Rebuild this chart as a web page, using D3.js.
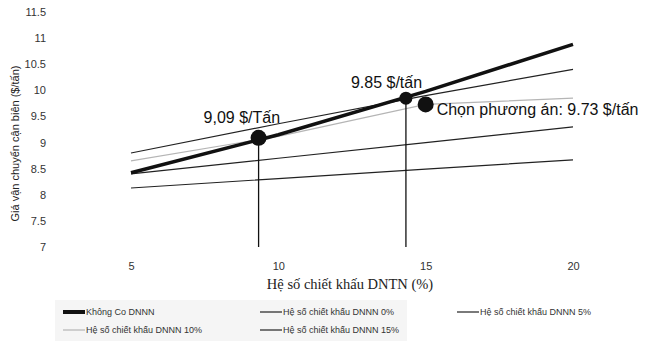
<!DOCTYPE html>
<html><head><meta charset="utf-8">
<script src="https://cdn.jsdelivr.net/npm/d3@7/dist/d3.min.js"></script>
<style>
html,body{margin:0;padding:0;background:#fff;}
svg{display:block;font-family:"Liberation Sans",Arial,sans-serif;}
</style></head>
<body><svg id="c" width="645" height="341"></svg>
<script>
// ---- data ----
const xValues = [5, 10, 15, 20];
const xTicks = [5, 10, 15, 20];
const yTicks = [7, 7.5, 8, 8.5, 9, 9.5, 10, 10.5, 11, 11.5];
const seriesNames = ["Không Co DNNN", "Hệ số chiết khấu DNNN 0%", "Hệ số chiết khấu DNNN 5%", "Hệ số chiết khấu DNNN 10%", "Hệ số chiết khấu DNNN 15%"];
const khongCo = [8.42, 9.15, 9.98, 10.88];
const dnnn0 = [8.13, 8.31, 8.49, 8.67];
const dnnn5 = [8.40, 8.70, 9.00, 9.30];
const dnnn10 = [8.65, 9.12, 9.73, 9.85];
const dnnn15 = [8.80, 9.36, 9.90, 10.40];
const markX = [9.33, 14.33];
const markY = [9.09, 9.85];
const markLabels = ["9,09 $/Tấn", "9.85 $/tấn"];
const chosenX = [15];
const chosenY = [9.73];
const chosenLabel = ["Chọn phương án: 9.73 $/tấn"];
const xTitle = "Hệ số chiết khấu DNTN (%)";
const yTitle = "Giá vận chuyển cận biên ($/tấn)";

// ---- chart ----
const svg = d3.select("#c");
const x = d3.scaleLinear().domain([5, 20]).range([131, 573]);
const y = d3.scaleLinear().domain([7, 11.5]).range([247, 12]);

// legend background (scan tint)
svg.append("rect").attr("x", 55).attr("y", 300).attr("width", 352).attr("height", 41).attr("fill", "#f5f5f5");

// y tick labels
const yAxis = d3.axisLeft(y).tickValues(yTicks).tickSize(0).tickPadding(0)
  .tickFormat(d => String(d));
const gy = svg.append("g").attr("transform", "translate(46,0)").call(yAxis);
gy.select(".domain").remove();
gy.selectAll("text").attr("font-size", 11).attr("fill", "#333").attr("font-family", "Liberation Sans, Arial, sans-serif");

// x tick labels
const xAxis = d3.axisBottom(x).tickValues(xTicks).tickSize(0).tickPadding(0).tickFormat(d => String(d));
const gx = svg.append("g").attr("transform", "translate(0,262)").call(xAxis);
gx.select(".domain").remove();
gx.selectAll("text").attr("font-size", 11).attr("fill", "#333").attr("font-family", "Liberation Sans, Arial, sans-serif");

// axis titles
svg.append("text").attr("x", 350).attr("y", 289).attr("text-anchor", "middle")
  .attr("font-size", 14.5).attr("fill", "#222").attr("font-family", "Liberation Serif, serif").text(xTitle);
svg.append("text").attr("transform", `translate(19,${(y(7)+y(11.5))/2 + 14}) rotate(-90)`)
  .attr("text-anchor", "middle").attr("font-size", 11).attr("fill", "#222").text(yTitle);

// lines
const seriesData = [khongCo, dnnn0, dnnn5, dnnn10, dnnn15];
const styles = [
  {c: "#111", w: 3.6},
  {c: "#222", w: 1.2},
  {c: "#222", w: 1.2},
  {c: "#b5b5b5", w: 1.2},
  {c: "#222", w: 1.2}
];
const line = d3.line().x((d, i) => x(xValues[i])).y(d => y(d));
const drawOrder = [3, 1, 2, 4, 0];
drawOrder.forEach(k => {
  svg.append("path").datum(seriesData[k]).attr("d", line)
    .attr("fill", "none").attr("stroke", styles[k].c).attr("stroke-width", styles[k].w);
});

// vertical drop lines and marker dots
markX.forEach((mx, i) => {
  svg.append("line").attr("x1", x(mx)).attr("x2", x(mx)).attr("y1", y(markY[i])).attr("y2", y(7))
    .attr("stroke", "#111").attr("stroke-width", 1.3);
});
const radii = [8, 6.5];
markX.forEach((mx, i) => {
  svg.append("circle").attr("cx", x(mx)).attr("cy", y(markY[i])).attr("r", radii[i]).attr("fill", "#111");
});
svg.append("circle").attr("cx", x(chosenX[0])).attr("cy", y(chosenY[0])).attr("r", 8).attr("fill", "#111");

// annotations
const ann = svg.append("g").attr("font-size", 16).attr("fill", "#111");
ann.append("text").attr("x", x(markX[0]) - 55).attr("y", y(markY[0]) - 15).text(markLabels[0]);
ann.append("text").attr("x", x(markX[1]) - 55).attr("y", y(markY[1]) - 10).text(markLabels[1]);
ann.append("text").attr("x", x(chosenX[0]) + 11).attr("y", y(chosenY[0]) + 11).text(chosenLabel[0]);

// legend
const legendPos = [[63, 312], [260, 312], [457, 312], [63, 330], [260, 330]];
const lg = svg.append("g").attr("font-size", 9).attr("fill", "#333");
seriesNames.forEach((name, k) => {
  const [lx, ly] = legendPos[k];
  lg.append("line").attr("x1", lx).attr("x2", lx + 22).attr("y1", ly).attr("y2", ly)
    .attr("stroke", styles[k].c).attr("stroke-width", k === 0 ? 4 : 1.2);
  lg.append("text").attr("x", lx + 23).attr("y", ly + 3).text(name);
});
</script></body></html>
